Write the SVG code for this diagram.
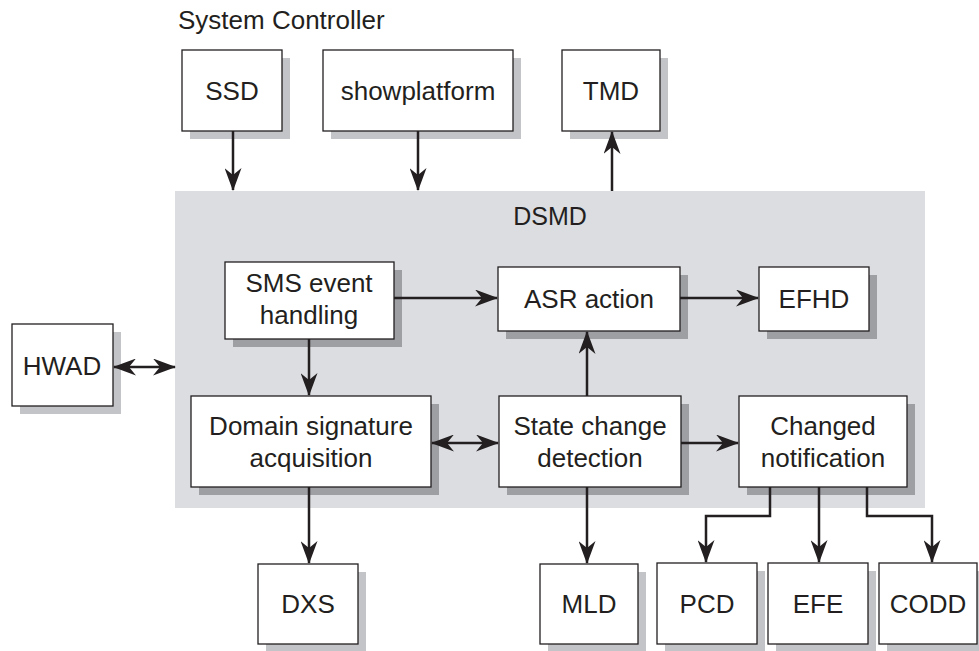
<svg xmlns="http://www.w3.org/2000/svg" width="979" height="651" viewBox="0 0 979 651">
<defs>
<style>
.box{fill:#fff;stroke:#231f20;stroke-width:1.3}
.sh{fill:#c3c4c7}
.shi{fill:#9e9fa3}
.t{font-family:"Liberation Sans",Arial,sans-serif;font-size:26px;fill:#231f20;text-anchor:middle}
.c{fill:none;stroke:#231f20;stroke-width:2.5}
</style>
<marker id="ah" viewBox="0 0 23 17" refX="22" refY="8.5" markerWidth="23" markerHeight="17" markerUnits="userSpaceOnUse" orient="auto-start-reverse">
<path d="M0,0 L23,8.5 L0,17 L7,8.5 z" fill="#231f20"/>
</marker>
</defs>
<rect width="979" height="651" fill="#fff"/>
<text x="178" y="29" class="t" style="text-anchor:start">System Controller</text>
<g id="DSMD">
<rect x="175" y="191" width="750" height="317" fill="#dcdde0"/>
<text x="550" y="225" class="t" style="font-size:25px">DSMD</text>
</g>
<g id="SSD"><rect x="190" y="58" width="100" height="81" class="sh"/><rect x="182" y="50" width="100" height="81" class="box"/><text x="232" y="100" class="t">SSD</text></g>
<g id="showplatform"><rect x="331" y="58" width="190" height="81" class="sh"/><rect x="323" y="50" width="190" height="81" class="box"/><text x="418" y="100" class="t">showplatform</text></g>
<g id="TMD"><rect x="570" y="58" width="98" height="81" class="sh"/><rect x="562" y="50" width="98" height="81" class="box"/><text x="611" y="100" class="t">TMD</text></g>
<g id="HWAD"><rect x="20" y="332" width="101" height="82" class="sh"/><rect x="12" y="324" width="101" height="82" class="box"/><text x="62" y="375" class="t">HWAD</text></g>
<g id="SMS"><rect x="233" y="270" width="169" height="77" class="shi"/><rect x="225" y="262" width="169" height="77" class="box"/><text x="309" y="292" class="t">SMS event</text><text x="309" y="324" class="t">handling</text></g>
<g id="ASR"><rect x="506" y="275" width="182" height="64" class="shi"/><rect x="498" y="267" width="182" height="64" class="box"/><text x="589" y="308" class="t">ASR action</text></g>
<g id="EFHD"><rect x="767" y="275" width="110" height="64" class="shi"/><rect x="759" y="267" width="110" height="64" class="box"/><text x="814" y="308" class="t">EFHD</text></g>
<g id="Domain"><rect x="199" y="404" width="240" height="91" class="shi"/><rect x="191" y="396" width="240" height="91" class="box"/><text x="311" y="435" class="t">Domain signature</text><text x="311" y="467" class="t">acquisition</text></g>
<g id="State"><rect x="507" y="404" width="182" height="91" class="shi"/><rect x="499" y="396" width="182" height="91" class="box"/><text x="590" y="435" class="t">State change</text><text x="590" y="467" class="t">detection</text></g>
<g id="Changed"><rect x="747" y="404" width="168" height="91" class="shi"/><rect x="739" y="396" width="168" height="91" class="box"/><text x="823" y="435" class="t">Changed</text><text x="823" y="467" class="t">notification</text></g>
<g id="DXS"><rect x="266" y="572" width="100" height="80" class="sh"/><rect x="258" y="564" width="100" height="80" class="box"/><text x="308" y="613" class="t">DXS</text></g>
<g id="MLD"><rect x="548" y="572" width="98" height="80" class="sh"/><rect x="540" y="564" width="98" height="80" class="box"/><text x="589" y="613" class="t">MLD</text></g>
<g id="PCD"><rect x="665" y="571" width="100" height="81" class="sh"/><rect x="657" y="563" width="100" height="81" class="box"/><text x="707" y="613" class="t">PCD</text></g>
<g id="EFE"><rect x="776" y="571" width="100" height="81" class="sh"/><rect x="768" y="563" width="100" height="81" class="box"/><text x="818" y="613" class="t">EFE</text></g>
<g id="CODD"><rect x="887" y="571" width="100" height="81" class="sh"/><rect x="879" y="563" width="98" height="81" class="box"/><text x="928" y="613" class="t">CODD</text></g>
<g id="connectors">
<line x1="233" y1="131" x2="233" y2="190" class="c" marker-end="url(#ah)"/>
<line x1="418" y1="131" x2="418" y2="190" class="c" marker-end="url(#ah)"/>
<line x1="612" y1="191" x2="612" y2="132" class="c" marker-end="url(#ah)"/>
<line x1="114" y1="367" x2="175" y2="367" class="c" marker-start="url(#ah)" marker-end="url(#ah)"/>
<line x1="394" y1="298" x2="497" y2="298" class="c" marker-end="url(#ah)"/>
<line x1="680" y1="298" x2="758" y2="298" class="c" marker-end="url(#ah)"/>
<line x1="309" y1="339" x2="309" y2="395" class="c" marker-end="url(#ah)"/>
<line x1="587" y1="396" x2="587" y2="332" class="c" marker-end="url(#ah)"/>
<line x1="432" y1="443" x2="498" y2="443" class="c" marker-start="url(#ah)" marker-end="url(#ah)"/>
<line x1="681" y1="443" x2="738" y2="443" class="c" marker-end="url(#ah)"/>
<line x1="309" y1="487" x2="309" y2="563" class="c" marker-end="url(#ah)"/>
<line x1="587" y1="487" x2="587" y2="563" class="c" marker-end="url(#ah)"/>
<polyline points="770,487 770,516 706,516 706,562" class="c" marker-end="url(#ah)"/>
<line x1="819" y1="487" x2="819" y2="562" class="c" marker-end="url(#ah)"/>
<polyline points="867,487 867,516 932,516 932,562" class="c" marker-end="url(#ah)"/>
</g>
</svg>
